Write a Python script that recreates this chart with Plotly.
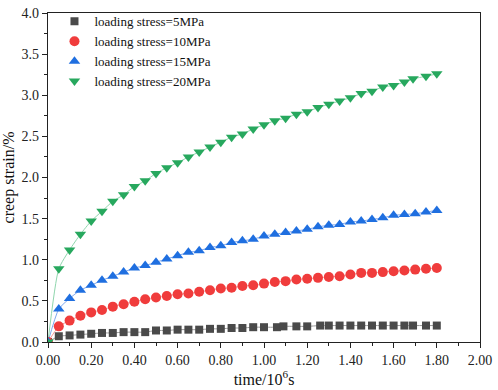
import plotly.graph_objects as go

# ---------------- data ----------------
x_5 = [0, 0.05, 0.10, 0.15, 0.20, 0.25, 0.30, 0.35, 0.40, 0.45, 0.50, 0.55, 0.60, 0.65, 0.70,
       0.75, 0.80, 0.85, 0.90, 0.95, 1.00, 1.06, 1.09, 1.15, 1.20, 1.26, 1.30, 1.35, 1.40,
       1.45, 1.50, 1.55, 1.60, 1.65, 1.69, 1.75, 1.80]
y_5 = [0.0, 0.07, 0.08, 0.09, 0.10, 0.11, 0.11, 0.12, 0.12, 0.12, 0.14, 0.14, 0.15, 0.15, 0.15,
       0.16, 0.16, 0.17, 0.17, 0.18, 0.18, 0.18, 0.19, 0.19, 0.19, 0.20, 0.20, 0.20, 0.20,
       0.20, 0.20, 0.20, 0.20, 0.20, 0.20, 0.20, 0.20]

x_10 = [0, 0.05, 0.10, 0.15, 0.20, 0.25, 0.30, 0.35, 0.40, 0.45, 0.50, 0.55, 0.60, 0.65, 0.70,
        0.75, 0.80, 0.85, 0.90, 0.95, 1.00, 1.05, 1.10, 1.15, 1.20, 1.25, 1.30, 1.35, 1.40,
        1.45, 1.50, 1.55, 1.60, 1.65, 1.70, 1.75, 1.80]
y_10 = [0.0, 0.19, 0.26, 0.32, 0.36, 0.39, 0.43, 0.46, 0.49, 0.52, 0.54, 0.56, 0.58, 0.59, 0.61,
        0.63, 0.65, 0.66, 0.68, 0.69, 0.71, 0.73, 0.74, 0.76, 0.77, 0.78, 0.79, 0.80, 0.82,
        0.84, 0.84, 0.85, 0.86, 0.87, 0.88, 0.89, 0.90]

x_15 = [0, 0.05, 0.10, 0.15, 0.20, 0.25, 0.30, 0.35, 0.40, 0.45, 0.50, 0.55, 0.60, 0.65, 0.70,
        0.75, 0.80, 0.85, 0.90, 0.95, 1.00, 1.05, 1.10, 1.15, 1.20, 1.25, 1.30, 1.35, 1.40,
        1.45, 1.50, 1.55, 1.60, 1.65, 1.70, 1.75, 1.80]
y_15 = [0.0, 0.40, 0.53, 0.63, 0.69, 0.75, 0.80, 0.85, 0.90, 0.93, 0.97, 1.01, 1.05, 1.09, 1.11,
        1.15, 1.17, 1.21, 1.23, 1.25, 1.29, 1.31, 1.33, 1.35, 1.37, 1.40, 1.42, 1.43, 1.46,
        1.47, 1.49, 1.51, 1.54, 1.55, 1.56, 1.58, 1.60]

x_20 = [0, 0.05, 0.10, 0.15, 0.20, 0.25, 0.30, 0.35, 0.40, 0.45, 0.50, 0.55, 0.60, 0.65, 0.70,
        0.75, 0.80, 0.85, 0.90, 0.95, 1.00, 1.05, 1.10, 1.15, 1.20, 1.25, 1.30, 1.35, 1.40,
        1.45, 1.50, 1.55, 1.60, 1.65, 1.69, 1.75, 1.80]
y_20 = [0.0, 0.89, 1.12, 1.31, 1.47, 1.59, 1.71, 1.79, 1.89, 1.96, 2.05, 2.12, 2.18, 2.25, 2.31,
        2.37, 2.43, 2.49, 2.53, 2.59, 2.64, 2.69, 2.72, 2.77, 2.80, 2.85, 2.89, 2.93, 2.97,
        3.02, 3.05, 3.10, 3.12, 3.16, 3.20, 3.23, 3.26]

names = ["loading stress=5MPa", "loading stress=10MPa",
         "loading stress=15MPa", "loading stress=20MPa"]
x_ticks = [0, 0.2, 0.4, 0.6, 0.8, 1.0, 1.2, 1.4, 1.6, 1.8, 2.0]
x_tick_labels = ["0.00", "0.20", "0.40", "0.60", "0.80", "1.00", "1.20", "1.40", "1.60", "1.80", "2.00"]
y_ticks = [0, 0.5, 1.0, 1.5, 2.0, 2.5, 3.0, 3.5, 4.0]
y_tick_labels = ["0.0", "0.5", "1.0", "1.5", "2.0", "2.5", "3.0", "3.5", "4.0"]

xs = [x_5, x_10, x_15, x_20]
ys = [y_5, y_10, y_15, y_20]
marker_colors = ["#4a4a4a", "#f03c3c", "#1f6fe0", "#27a85e"]
line_colors = ["#9a9a9a", "#f59a9a", "#7fa8ee", "#8fd6ad"]
symbols = ["square", "circle", "triangle-up", "triangle-down"]
sizes = [8, 10, 10, 10]

SERIF = "Liberation Serif"

fig = go.Figure()
# thin connecting lines (below markers, not in legend)
for x, y, lc in zip(xs, ys, line_colors):
    fig.add_trace(go.Scatter(
        x=x, y=y, mode="lines", showlegend=False, hoverinfo="skip",
        line=dict(color=lc, width=1, shape="spline", smoothing=0.6),
    ))
# markers
for x, y, n, mc, s, sz in zip(xs, ys, names, marker_colors, symbols, sizes):
    fig.add_trace(go.Scatter(
        x=x, y=y, name=n, mode="markers",
        marker=dict(color=mc, symbol=s, size=sz, line=dict(width=0)),
    ))

axis_common = dict(
    showline=True, linecolor="#222", linewidth=1.2, mirror=True,
    ticks="outside", ticklen=5, tickwidth=1, tickcolor="#222",
    showgrid=False, zeroline=False, ticklabeloverflow="allow",
    tickfont=dict(family=SERIF, size=14, color="#222"),
)

fig.update_xaxes(
    range=[0, 2.0], tickvals=x_ticks, ticktext=x_tick_labels,
    title=dict(text="time/10<sup>6</sup>s", font=dict(family=SERIF, size=16, color="#111"), standoff=5),
    minor=dict(ticks="outside", ticklen=3, tickwidth=1, tickcolor="#222",
               tickvals=[0.1, 0.3, 0.5, 0.7, 0.9, 1.1, 1.3, 1.5, 1.7, 1.9]),
    **axis_common,
)
fig.update_yaxes(
    range=[0, 4.0], tickvals=y_ticks, ticktext=y_tick_labels,
    title=dict(text="creep strain/%", font=dict(family=SERIF, size=16, color="#111"), standoff=4),
    minor=dict(ticks="outside", ticklen=3, tickwidth=1, tickcolor="#222",
               tickvals=[0.25, 0.75, 1.25, 1.75, 2.25, 2.75, 3.25, 3.75]),
    **axis_common,
)

fig.update_layout(
    width=498, height=390,
    margin=dict(l=47, r=13, t=6, b=47),
    plot_bgcolor="white", paper_bgcolor="white",
    legend=dict(
        x=0.015, y=1.02, xanchor="left", yanchor="top",
        bgcolor="rgba(0,0,0,0)", borderwidth=0,
        font=dict(family=SERIF, size=13, color="#111"),
        tracegroupgap=0, itemwidth=30,
    ),
    showlegend=True,
)

fig.write_html("out.html", config={"displayModeBar": False},
               post_script="document.body.style.margin='0';document.body.style.padding='0';")
